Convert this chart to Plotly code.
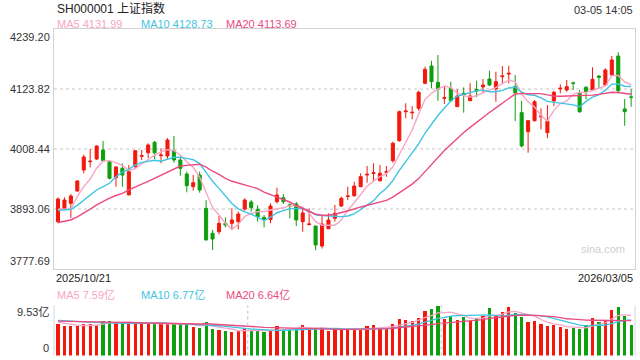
import plotly.graph_objects as go

# ---------------- data ----------------
dates = (
    ["2025/10/%02d" % d for d in [21, 22, 23, 24, 27, 28, 29, 30, 31]]
    + ["2025/11/%02d" % d for d in [3, 4, 5, 6, 7, 10, 11, 12, 13, 14, 17, 18, 19, 20, 21, 24, 25, 26, 27, 28]]
    + ["2025/12/%02d" % d for d in [1, 2, 3, 4, 5, 8, 9, 10, 11, 12, 15, 16, 17, 18, 19, 22, 23, 24, 25, 26, 29, 30, 31]]
    + ["2026/01/%02d" % d for d in [5, 6, 7, 8, 9, 12, 13, 14, 15, 16, 19, 20, 21, 22, 23, 26, 27, 28, 29, 30]]
    + ["2026/02/%02d" % d for d in [2, 3, 4, 5, 6, 9, 10, 11, 12, 13, 24, 25, 26, 27]]
    + ["2026/03/%02d" % d for d in [2, 3, 4, 5]]
)

opens = [3868.6, 3894.4, 3904.0, 3927.7, 3968.0, 3984.0, 3989.2, 4006.5, 3984.0, 3953.3,
         3971.3, 3920.0, 3974.4, 3994.5, 4001.3, 4021.3, 3995.5, 3995.0, 4005.0, 3987.3,
         3960.4, 3936.0, 3958.4, 3894.4, 3846.3, 3849.4, 3865.5, 3865.5, 3868.7, 3893.0,
         3906.5, 3892.5, 3877.0, 3873.0, 3907.0, 3914.8, 3901.0, 3902.9, 3868.7, 3863.0,
         3860.3, 3821.9, 3855.0, 3875.2, 3898.8, 3917.0, 3918.6, 3936.0, 3958.5, 3961.5,
         3947.5, 3963.5, 3985.9, 4024.4, 4080.0, 4078.0, 4086.7, 4134.8, 4168.0, 4136.7,
         4105.8, 4125.2, 4089.8, 4115.6, 4101.3, 4123.2, 4127.7, 4143.1, 4123.8, 4147.5,
         4152.5, 4128.3, 4078.3, 4041.7, 4062.9, 4070.5, 4039.8, 4100.7, 4124.0, 4121.9,
         4135.5, 4115.6, 4127.0, 4121.9, 4148.8, 4131.5, 4150.7, 4187.3, 4085.4, 4108.5]
highs = [3915.5, 3915.5, 3921.9, 3948.8, 3997.5, 4008.4, 4015.5, 4023.8, 3987.0, 3975.7,
         3981.0, 3977.7, 4006.5, 4006.5, 4019.4, 4023.8, 4009.8, 4029.6, 4033.4, 3995.0,
         3964.8, 3958.4, 3964.8, 3910.0, 3852.7, 3879.6, 3877.0, 3894.4, 3887.9, 3913.6,
         3910.4, 3900.2, 3881.5, 3904.0, 3934.0, 3921.9, 3904.0, 3907.0, 3894.0, 3894.0,
         3861.0, 3881.5, 3884.8, 3900.8, 3916.7, 3936.0, 3945.6, 3961.7, 3975.7, 3981.0,
         3977.7, 3975.7, 4022.5, 4082.1, 4096.3, 4091.0, 4120.6, 4166.7, 4178.2, 4189.2,
         4129.6, 4137.9, 4123.2, 4127.0, 4134.8, 4139.8, 4143.1, 4159.0, 4157.1, 4168.0,
         4168.6, 4150.7, 4101.3, 4064.0, 4102.7, 4086.7, 4093.0, 4120.0, 4132.9, 4141.1,
         4138.0, 4121.9, 4129.6, 4165.5, 4150.7, 4163.6, 4187.3, 4194.4, 4104.6, 4123.8]
lows = [3865.5, 3891.0, 3876.0, 3926.3, 3961.7, 3973.0, 3987.3, 3985.0, 3950.0, 3936.0,
        3936.0, 3920.0, 3971.3, 3987.3, 3991.0, 3989.0, 3981.0, 3989.0, 3982.0, 3957.0,
        3925.2, 3928.3, 3924.4, 3833.0, 3814.2, 3844.4, 3857.8, 3854.0, 3854.0, 3889.8,
        3887.9, 3868.7, 3857.8, 3865.5, 3904.0, 3902.7, 3875.0, 3860.3, 3849.4, 3862.0,
        3814.0, 3817.0, 3855.0, 3868.7, 3897.5, 3910.4, 3916.7, 3935.0, 3943.6, 3945.6,
        3945.6, 3955.2, 3982.1, 4022.5, 4067.4, 4065.5, 4082.1, 4132.9, 4125.0, 4101.3,
        4095.0, 4099.4, 4089.8, 4078.3, 4101.0, 4107.9, 4115.6, 4129.6, 4099.4, 4134.8,
        4134.8, 4062.3, 4011.7, 4001.3, 4061.0, 4046.3, 4029.0, 4091.0, 4115.6, 4118.6,
        4121.9, 4078.0, 4104.0, 4121.0, 4125.2, 4129.6, 4149.4, 4115.6, 4053.2, 4089.8]
closes = [3912.3, 3910.4, 3918.0, 3946.9, 3993.0, 3985.0, 4014.2, 3985.9, 3952.0, 3973.8,
          3958.4, 3964.8, 4005.2, 3995.6, 4016.1, 4001.3, 3996.9, 4025.7, 3987.3, 3971.3,
          3937.9, 3943.6, 3929.6, 3833.5, 3835.4, 3865.5, 3862.3, 3871.9, 3883.4, 3910.4,
          3895.6, 3878.0, 3873.0, 3898.8, 3920.0, 3907.0, 3898.8, 3872.0, 3885.5, 3864.2,
          3823.8, 3864.2, 3871.9, 3884.8, 3913.6, 3918.0, 3937.3, 3955.2, 3959.8, 3962.9,
          3961.7, 3964.8, 4019.4, 4080.2, 4081.5, 4079.0, 4117.5, 4161.7, 4137.9, 4123.8,
          4107.1, 4101.3, 4110.4, 4112.3, 4110.4, 4120.0, 4131.5, 4131.5, 4138.0, 4148.8,
          4154.0, 4116.7, 4014.2, 4062.9, 4099.4, 4071.9, 4062.3, 4117.5, 4125.2, 4128.3,
          4134.8, 4080.2, 4118.6, 4142.5, 4146.3, 4160.4, 4179.6, 4120.6, 4080.2, 4107.9]

ma5 = [3892.5, 3892.5, 3893.0, 3917.0, 3936.1, 3950.7, 3971.4, 3985.0, 3986.0, 3982.2,
       3976.9, 3967.0, 3970.8, 3979.6, 3988.0, 3996.6, 4003.0, 4007.1, 4005.5, 3996.5,
       3983.8, 3973.2, 3953.9, 3923.2, 3896.0, 3881.5, 3865.3, 3853.7, 3863.7, 3878.7,
       3884.7, 3887.9, 3888.1, 3891.2, 3893.1, 3895.4, 3899.5, 3899.3, 3896.5, 3885.4,
       3868.7, 3861.8, 3861.8, 3861.8, 3871.7, 3890.5, 3905.1, 3921.8, 3936.8, 3946.6,
       3955.4, 3960.9, 3973.7, 3997.8, 4021.5, 4045.0, 4075.5, 4104.0, 4115.5, 4124.0,
       4129.6, 4126.4, 4116.1, 4111.0, 4108.3, 4110.9, 4116.9, 4121.1, 4126.3, 4134.0,
       4140.8, 4137.8, 4114.3, 4099.3, 4089.4, 4073.0, 4062.1, 4082.8, 4095.3, 4101.0,
       4113.6, 4117.2, 4117.4, 4120.9, 4124.5, 4129.6, 4149.5, 4149.9, 4137.4, 4131.99]
ma10 = [3890.0, 3891.0, 3892.5, 3900.0, 3910.0, 3920.0, 3929.6, 3936.0, 3942.5, 3955.0,
        3963.8, 3969.2, 3977.9, 3982.8, 3985.1, 3986.7, 3985.0, 3989.0, 3992.5, 3992.3,
        3990.2, 3988.1, 3980.5, 3964.3, 3946.3, 3932.7, 3919.2, 3903.8, 3893.4, 3887.4,
        3883.1, 3876.6, 3870.9, 3877.4, 3885.9, 3890.0, 3893.7, 3893.7, 3893.8, 3889.2,
        3882.0, 3880.7, 3880.6, 3879.2, 3878.5, 3879.6, 3883.5, 3891.8, 3899.3, 3909.2,
        3922.9, 3933.0, 3947.8, 3967.3, 3984.1, 4000.2, 4018.2, 4038.9, 4056.7, 4072.8,
        4087.3, 4100.9, 4110.0, 4113.3, 4116.1, 4120.2, 4121.6, 4118.6, 4118.6, 4121.1,
        4125.8, 4127.4, 4117.7, 4112.8, 4111.7, 4106.9, 4100.0, 4098.6, 4097.3, 4095.2,
        4093.3, 4089.7, 4100.1, 4108.1, 4112.8, 4121.6, 4133.3, 4133.7, 4129.2, 4128.73]
ma20 = [3867.0, 3869.0, 3872.0, 3878.0, 3885.0, 3893.0, 3901.0, 3908.0, 3914.0, 3919.0,
        3923.0, 3930.0, 3936.0, 3941.0, 3946.0, 3952.0, 3958.0, 3965.0, 3971.0, 3975.7,
        3977.0, 3978.6, 3979.2, 3973.6, 3965.7, 3959.7, 3952.1, 3946.4, 3943.0, 3939.8,
        3936.7, 3932.3, 3925.7, 3920.9, 3916.1, 3911.4, 3906.5, 3899.8, 3894.6, 3889.3,
        3883.0, 3881.0, 3881.0, 3883.0, 3886.0, 3889.0, 3893.0, 3897.0, 3900.0, 3903.0,
        3906.0, 3909.5, 3916.0, 3924.5, 3932.5, 3941.0, 3951.5, 3965.5, 3978.5, 3991.5,
        4005.5, 4017.0, 4028.9, 4040.3, 4050.1, 4060.2, 4069.9, 4078.7, 4087.6, 4096.9,
        4106.6, 4114.2, 4115.0, 4115.0, 4115.5, 4115.0, 4112.5, 4110.5, 4110.0, 4110.2,
        4111.0, 4110.5, 4110.9, 4112.0, 4113.5, 4115.5, 4117.5, 4117.0, 4115.0, 4113.69]

volume = [5.91, 5.53, 5.59, 5.53, 6.04, 5.91, 5.78, 6.67, 6.67, 6.35,
          6.16, 6.23, 6.16, 5.91, 6.16, 5.91, 5.91, 6.16, 6.04, 5.91,
          5.91, 5.40, 5.27, 6.35, 5.02, 4.77, 4.64, 4.45, 4.64, 5.27,
          4.64, 4.64, 4.45, 4.77, 5.53, 5.08, 5.08, 5.27, 5.72, 5.27,
          5.08, 5.27, 4.64, 4.89, 5.08, 5.08, 4.77, 4.77, 5.53, 5.72,
          5.27, 5.08, 5.91, 7.05, 6.80, 6.67, 7.24, 8.45, 8.77, 9.53,
          6.93, 7.56, 6.86, 7.43, 6.67, 7.12, 7.62, 8.96, 7.62, 8.20,
          9.15, 8.07, 7.31, 6.35, 6.67, 5.91, 5.53, 5.72, 5.40, 4.96,
          5.27, 4.96, 5.72, 7.24, 6.48, 6.80, 8.58, 9.15, 7.62, 5.72]
vol_ma5 = [6.30, 6.10, 5.95, 5.80, 5.72, 5.72, 5.77, 5.99, 6.21, 6.28,
           6.33, 6.42, 6.31, 6.16, 6.12, 6.07, 6.01, 6.01, 6.04, 5.99,
           5.99, 5.88, 5.71, 5.77, 5.59, 5.36, 5.21, 5.05, 4.70, 4.75,
           4.73, 4.73, 4.73, 4.75, 4.81, 4.89, 4.98, 5.15, 5.34, 5.28,
           5.28, 5.32, 5.20, 5.03, 4.99, 4.99, 4.89, 4.92, 5.05, 5.17,
           5.21, 5.27, 5.50, 5.81, 6.02, 6.30, 6.73, 7.24, 7.59, 8.13,
           8.18, 8.25, 7.93, 7.66, 7.09, 7.13, 7.14, 7.56, 7.60, 7.90,
           8.31, 8.40, 8.07, 7.82, 7.51, 6.86, 6.35, 6.04, 5.85, 5.50,
           5.38, 5.26, 5.26, 5.63, 5.93, 6.24, 6.96, 7.65, 7.73, 7.59]
vol_ma10 = [6.70, 6.60, 6.50, 6.45, 6.40, 6.35, 6.30, 6.25, 6.15, 6.05,
            6.02, 6.09, 6.15, 6.19, 6.20, 6.20, 6.21, 6.16, 6.10, 6.06,
            6.03, 5.95, 5.86, 5.90, 5.79, 5.67, 5.55, 5.38, 5.24, 5.17,
            5.05, 4.97, 4.89, 4.73, 4.78, 4.81, 4.86, 4.94, 5.05, 5.05,
            5.09, 5.15, 5.17, 5.18, 5.14, 5.14, 5.11, 5.06, 5.04, 5.08,
            5.10, 5.08, 5.21, 5.43, 5.60, 5.76, 6.00, 6.37, 6.70, 7.08,
            7.24, 7.49, 7.59, 7.62, 7.61, 7.66, 7.69, 7.75, 7.63, 7.50,
            7.72, 7.77, 7.82, 7.71, 7.71, 7.59, 7.38, 7.05, 6.83, 6.51,
            6.12, 5.81, 5.65, 5.74, 5.72, 5.81, 6.11, 6.46, 6.68, 6.77]
vol_ma20 = [6.55, 6.52, 6.50, 6.47, 6.45, 6.42, 6.40, 6.38, 6.36, 6.34,
            6.32, 6.30, 6.28, 6.26, 6.24, 6.22, 6.20, 6.16, 6.10, 6.03,
            6.03, 6.02, 6.00, 6.05, 5.99, 5.94, 5.88, 5.77, 5.67, 5.61,
            5.54, 5.46, 5.37, 5.32, 5.28, 5.24, 5.20, 5.16, 5.14, 5.11,
            5.07, 5.06, 5.03, 4.96, 4.96, 4.97, 4.98, 5.00, 5.04, 5.06,
            5.10, 5.12, 5.19, 5.30, 5.37, 5.45, 5.56, 5.71, 5.87, 6.08,
            6.17, 6.29, 6.40, 6.53, 6.60, 6.71, 6.85, 7.06, 7.16, 7.29,
            7.48, 7.63, 7.70, 7.67, 7.66, 7.62, 7.54, 7.40, 7.23, 7.00,
            6.92, 6.79, 6.73, 6.72, 6.71, 6.70, 6.75, 6.75, 6.75, 6.64]

price_ticks = [4239.20, 4123.82, 4008.44, 3893.06, 3777.69]
vol_max = 9.53
title_text = "SH000001 上证指数"
time_text = "03-05 14:05"

# ---------------- style ----------------
W, H = 640, 360
RED, GREEN = "#f2190c", "#0e9f0e"
C5, C10, C20 = "#f8a5c6", "#3fc4e2", "#ec4a80"
FONT = "Liberation Sans, Arial, Noto Sans CJK SC, sans-serif"
PL, PR = 54, 635          # plot left / right (px)
MT, MB = 29, 269          # main panel top / bottom (px)
VT, VB = 305.5, 355.5     # volume panel top / bottom (px)

def px(x):
    return x / W

def py(y):
    return 1 - y / H

fig = go.Figure()

fig.add_trace(go.Candlestick(
    x=dates, open=opens, high=highs, low=lows, close=closes,
    increasing=dict(line=dict(color=RED, width=1), fillcolor=RED),
    decreasing=dict(line=dict(color=GREEN, width=1), fillcolor=GREEN),
    whiskerwidth=0, showlegend=False, hoverinfo="skip",
    xaxis="x", yaxis="y"))

for arr, col in [(ma5, C5), (ma10, C10), (ma20, C20)]:
    fig.add_trace(go.Scatter(x=dates, y=arr, mode="lines",
                             line=dict(color=col, width=1.4),
                             showlegend=False, hoverinfo="skip",
                             xaxis="x", yaxis="y"))

bar_colors = [RED if c >= o else GREEN for o, c in zip(opens, closes)]
fig.add_trace(go.Bar(x=dates, y=volume, marker=dict(color=bar_colors, line=dict(width=0)),
                     width=0.5, showlegend=False, hoverinfo="skip",
                     xaxis="x2", yaxis="y2"))
for arr, col in [(vol_ma5, C5), (vol_ma10, C10), (vol_ma20, C20)]:
    fig.add_trace(go.Scatter(x=dates, y=arr, mode="lines",
                             line=dict(color=col, width=1.3),
                             showlegend=False, hoverinfo="skip",
                             xaxis="x2", yaxis="y2"))

xrange = [-0.62, 89.6]
common_x = dict(domain=[px(PL), px(PR)], type="category", range=xrange,
                showticklabels=False, showgrid=False, zeroline=False,
                ticks="", fixedrange=True)
fig.update_layout(
    width=W, height=H, margin=dict(l=0, r=0, t=0, b=0),
    paper_bgcolor="white", plot_bgcolor="white",
    boxgap=0.32, bargap=0,
    xaxis=dict(**common_x, rangeslider=dict(visible=False), anchor="y",
               showline=True, linecolor="#d2d2d2", linewidth=1, mirror=True),
    yaxis=dict(domain=[py(MB), py(MT)], range=[price_ticks[-1], price_ticks[0]],
               tickvals=price_ticks[1:-1], showticklabels=False, ticks="",
               showgrid=True, gridcolor="#e2e2e2", gridwidth=1.5, griddash="dot",
               zeroline=False, showline=True, linecolor="#d2d2d2", linewidth=1,
               mirror=True, anchor="x", fixedrange=True),
    xaxis2=dict(**common_x, anchor="y2"),
    yaxis2=dict(domain=[py(VB), py(VT)], range=[0, vol_max], tickvals=[0, vol_max],
                showticklabels=False, ticks="", showgrid=True, gridcolor="#dcdcdc",
                gridwidth=1.5, griddash="dot", zeroline=False, anchor="x2",
                fixedrange=True),
    hovermode=False,
)

# volume panel side borders and vertical dotted guides
shapes = []
for xv in (0, 1):
    shapes.append(dict(type="line", xref="x2 domain", yref="y2 domain", x0=xv, x1=xv,
                       y0=0, y1=1, line=dict(color="#d8d8d8", width=1)))
for xv in (1 / 3, 2 / 3):
    shapes.append(dict(type="line", xref="x2 domain", yref="y2 domain", x0=xv, x1=xv,
                       y0=0, y1=1, line=dict(color="#d0d0d0", width=1.5, dash="dot")))
fig.update_layout(shapes=shapes)

ann = []
def text(x, y, s, size=11, color="#333333", xa="left", ya="middle", yref="paper"):
    ann.append(dict(x=x, y=y, xref="paper", yref=yref, text=s, showarrow=False,
                    xanchor=xa, yanchor=ya, font=dict(family=FONT, size=size, color=color)))

text(px(55), py(8), title_text, size=12, color="#222222")
text(px(635), py(10), time_text, size=11, color="#333333", xa="right")
text(px(55), py(24), "MA5 %.2f" % ma5[-1], color=C5)
text(px(139), py(24), "MA10 %.2f" % ma10[-1], color=C10)
text(px(224), py(24), "MA20 %.2f" % ma20[-1], color=C20)

# price labels
for i, v in enumerate(price_ticks):
    ya = "top" if i == 0 else ("bottom" if i == len(price_ticks) - 1 else "middle")
    text(px(52), v, "%.2f" % v, xa="right", ya=ya, yref="y", color="#333333")

text(px(54), py(277.5), dates[0], color="#222222")
text(px(635), py(277.5), dates[-1], color="#222222", xa="right")

text(px(55), py(295), "MA5 %.2f亿" % vol_ma5[-1], color=C5)
text(px(139), py(295), "MA10 %.2f亿" % vol_ma10[-1], color=C10)
text(px(224), py(295), "MA20 %.2f亿" % vol_ma20[-1], color=C20)
text(px(51), py(312), "%.2f亿" % vol_max, xa="right", color="#333333")
text(px(51), py(348), "0", xa="right", color="#333333")

text(px(603), py(249), "sina.com", size=11, color="#cfcfcf", xa="center")

fig.update_layout(annotations=ann)
fig.write_html("out.html", config={"displayModeBar": False, "staticPlot": True},
               post_script="document.body.style.margin='0';document.body.style.overflow='hidden';")
